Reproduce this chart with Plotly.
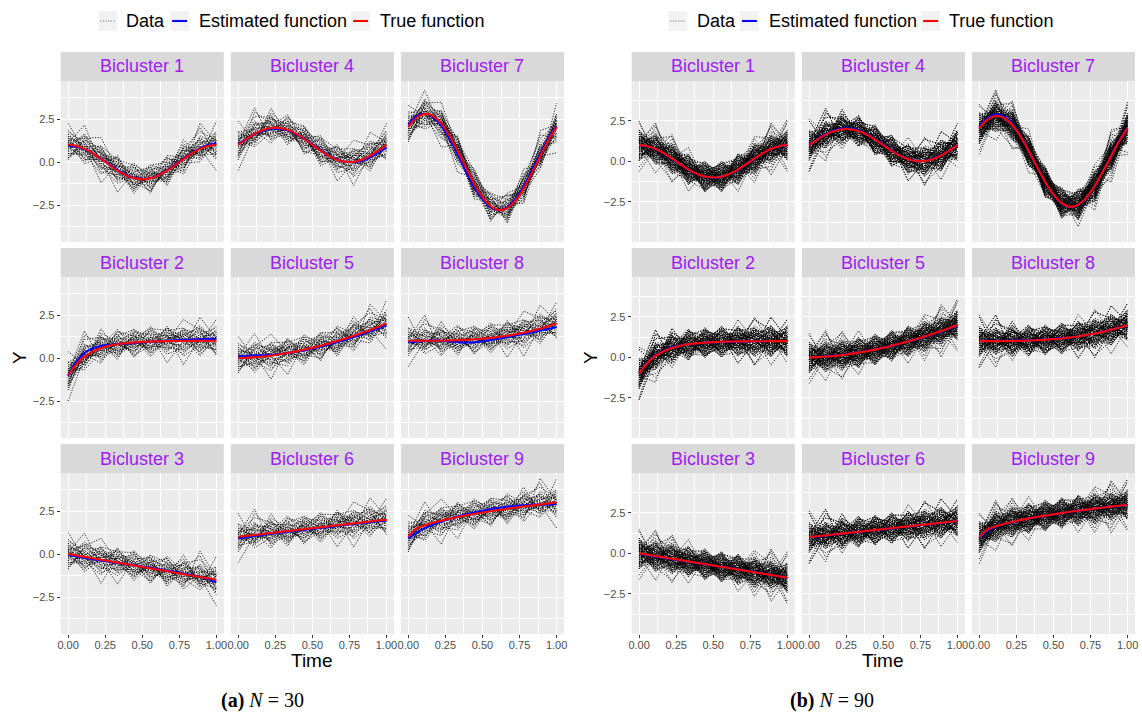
import plotly.graph_objects as go

W, H = 1142, 713

# ---------------- data ----------------
TIME = [0.0, 0.111, 0.222, 0.333, 0.444, 0.556, 0.667, 0.778, 0.889, 1.0]
GRID = [0.0, 0.05, 0.1, 0.15, 0.2, 0.25, 0.3, 0.35, 0.4, 0.45, 0.5,
        0.55, 0.6, 0.65, 0.7, 0.75, 0.8, 0.85, 0.9, 0.95, 1.0]

BICLUSTERS = ["Bicluster 1", "Bicluster 2", "Bicluster 3",
              "Bicluster 4", "Bicluster 5", "Bicluster 6",
              "Bicluster 7", "Bicluster 8", "Bicluster 9"]

# mean level of observed data at each time point
MEAN_1 = [1.0, 0.766, 0.174, -0.5, -0.94, -0.94, -0.5, 0.174, 0.766, 1.0]
MEAN_2 = [-1.0, 0.08, 0.58, 0.79, 0.91, 0.96, 0.98, 0.99, 1.0, 1.0]
MEAN_3 = [0.0, -0.167, -0.333, -0.5, -0.667, -0.833, -1.0, -1.167, -1.333, -1.5]
MEAN_4 = [1.0, 1.643, 1.985, 1.866, 1.342, 0.658, 0.134, 0.015, 0.357, 1.0]
MEAN_5 = [0.0, 0.043, 0.14, 0.29, 0.48, 0.72, 0.98, 1.29, 1.63, 2.0]
MEAN_6 = [1.0, 1.111, 1.222, 1.333, 1.444, 1.556, 1.667, 1.778, 1.889, 2.0]
MEAN_7 = [2.04, 2.80, 2.24, 0.64, -1.26, -2.57, -2.68, -1.53, 0.33, 2.04]
MEAN_8 = [1.0, 1.001, 1.011, 1.037, 1.088, 1.171, 1.296, 1.471, 1.702, 2.0]
MEAN_9 = [1.0, 1.667, 1.943, 2.155, 2.333, 2.491, 2.633, 2.764, 2.886, 3.0]
MEANS = [MEAN_1, MEAN_2, MEAN_3, MEAN_4, MEAN_5, MEAN_6, MEAN_7, MEAN_8, MEAN_9]

# deviations of individual curves from the mean, read as tenths
NOISE = [
    [3, -5, 2, 6, -1, -4, 0, 5, -3, 1],
    [-6, 1, 4, -2, 7, 0, -3, 2, 5, -4],
    [1, 11, -3, 0, -5, 3, 6, -2, -1, 4],
    [5, -2, -7, 3, 1, -6, 2, 0, 4, -3],
    [-2, 4, 0, -10, 3, 5, -1, -4, 2, 6],
    [7, 0, 3, 1, -4, 2, -5, 6, -2, -1],
    [-4, -3, 5, 2, 0, -2, 4, -6, 12, 1],
    [0, 6, -1, -4, 5, 1, -2, 3, -5, 2],
    [2, -7, 1, 4, -3, 6, 0, -1, 3, -6],
    [-5, 2, -4, 0, 2, -3, 7, 1, -2, 5],
    [4, 1, 6, -3, -2, 0, -4, 5, 1, -2],
    [-1, -4, 2, 5, 6, -5, 1, -3, 0, 3],
    [6, 3, -2, -1, 0, 4, -6, 2, 10, -5],
    [-3, 0, -5, 7, -4, 1, 3, 4, -1, 0],
    [1, -1, 3, -5, 2, -7, 5, 0, -4, 11],
    [-7, 5, 0, 2, -1, 3, -2, -5, 6, 1],
    [3, 2, -6, -2, 4, 0, 1, 7, -3, -4],
    [0, -6, 4, 1, -7, 2, -3, 1, 2, 4],
    [10, -1, 1, 3, 2, -4, 0, -2, -6, 2],
    [-2, 3, -3, -6, 1, 6, 4, -1, 0, -3],
    [2, 5, 10, 0, -3, -1, -5, 3, 4, -7],
    [-4, -2, 1, 4, 3, -3, 2, -7, 1, 0],
    [5, 0, -4, -3, 6, 2, -1, 4, -2, 3],
    [-1, 7, 2, 1, -2, -6, 3, 0, 5, -1],
    [1, -3, -1, 6, 0, 5, -7, 2, -3, 6],
    [-6, 4, 5, -1, -5, 1, 6, -3, 3, 2],
    [4, -5, 0, 2, 5, -2, -3, 9, -4, 0],
    [0, 1, -11, 3, -6, 4, 2, -4, 1, -5],
    [-3, 6, 3, -4, 1, -1, 0, 5, 8, 2],
    [2, -2, 6, 5, -3, 3, -4, -1, 0, -12],
]
NOISE_UNIT = [0.125, 0.135]

TRUE_1 = [1, .951, .809, .588, .309, 0, -.309, -.588, -.809, -.951, -1,
          -.951, -.809, -.588, -.309, 0, .309, .588, .809, .951, 1]
TRUE_2 = [-1, -0.41, 0.01, 0.30, 0.51, 0.65, 0.76, 0.83, 0.88, 0.91, 0.94,
          0.96, 0.97, 0.98, 0.985, 0.99, 0.99, 0.995, 1.0, 1.0, 1.0]
TRUE_3 = [0, -0.075, -0.15, -0.225, -0.3, -0.375, -0.45, -0.525, -0.6, -0.675, -0.75,
          -0.825, -0.9, -0.975, -1.05, -1.125, -1.2, -1.275, -1.35, -1.425, -1.5]
TRUE_4 = [1, 1.309, 1.588, 1.809, 1.951, 2, 1.951, 1.809, 1.588, 1.309, 1,
          .691, .412, .191, .049, 0, .049, .191, .412, .691, 1]
TRUE_5 = [0, 0.011, 0.036, 0.072, 0.12, 0.177, 0.244, 0.32, 0.40, 0.49, 0.59,
          0.70, 0.82, 0.94, 1.07, 1.21, 1.35, 1.50, 1.66, 1.83, 2.0]
TRUE_6 = [1, 1.05, 1.1, 1.15, 1.2, 1.25, 1.3, 1.35, 1.4, 1.45, 1.5,
          1.55, 1.6, 1.65, 1.7, 1.75, 1.8, 1.85, 1.9, 1.95, 2.0]
TRUE_7 = [2.04, 2.53, 2.78, 2.75, 2.45, 1.92, 1.19, 0.35, -0.52, -1.35, -2.04,
          -2.53, -2.78, -2.75, -2.45, -1.92, -1.19, -0.35, 0.52, 1.35, 2.04]
TRUE_8 = [1, 1.0001, 1.001, 1.0034, 1.008, 1.0156, 1.027, 1.043, 1.064, 1.091, 1.125,
          1.166, 1.216, 1.275, 1.343, 1.422, 1.512, 1.614, 1.729, 1.857, 2.0]
TRUE_9 = [1, 1.447, 1.632, 1.775, 1.894, 2.0, 2.095, 2.183, 2.265, 2.342, 2.414,
          2.483, 2.549, 2.612, 2.673, 2.732, 2.789, 2.844, 2.897, 2.949, 3.0]
TRUE = [TRUE_1, TRUE_2, TRUE_3, TRUE_4, TRUE_5, TRUE_6, TRUE_7, TRUE_8, TRUE_9]

EST_A_1 = [0.93, 0.90, 0.78, 0.58, 0.32, 0.03, -0.27, -0.55, -0.78, -0.93, -0.98,
           -0.94, -0.80, -0.57, -0.28, 0.03, 0.34, 0.62, 0.85, 1.00, 1.10]
EST_A_2 = [-1.05, -0.30, 0.20, 0.50, 0.66, 0.74, 0.79, 0.82, 0.85, 0.88, 0.92,
           0.95, 0.98, 1.00, 1.02, 1.04, 1.06, 1.08, 1.10, 1.11, 1.12]
EST_A_3 = [-0.05, -0.13, -0.21, -0.28, -0.35, -0.42, -0.48, -0.54, -0.60, -0.66, -0.73,
           -0.80, -0.87, -0.94, -1.01, -1.09, -1.17, -1.26, -1.36, -1.48, -1.65]
EST_A_4 = [1.05, 1.33, 1.58, 1.77, 1.89, 1.93, 1.90, 1.78, 1.58, 1.32, 1.03,
           0.73, 0.45, 0.22, 0.06, -0.01, 0.01, 0.12, 0.32, 0.57, 0.85]
EST_A_5 = [0.10, 0.13, 0.15, 0.16, 0.17, 0.20, 0.25, 0.31, 0.38, 0.46, 0.55,
           0.65, 0.76, 0.88, 1.01, 1.14, 1.28, 1.43, 1.58, 1.74, 1.90]
EST_A_6 = [0.90, 0.97, 1.04, 1.10, 1.16, 1.21, 1.26, 1.31, 1.36, 1.41, 1.46,
           1.51, 1.56, 1.61, 1.67, 1.72, 1.77, 1.82, 1.87, 1.91, 1.95]
EST_A_7 = [2.20, 2.62, 2.80, 2.70, 2.34, 1.76, 1.00, 0.14, -0.73, -1.52, -2.16,
           -2.60, -2.80, -2.72, -2.38, -1.82, -1.07, -0.22, 0.64, 1.45, 2.10]
EST_A_8 = [0.90, 0.95, 0.99, 1.01, 1.01, 0.99, 0.95, 0.91, 0.90, 0.92, 0.97,
           1.04, 1.11, 1.19, 1.27, 1.35, 1.43, 1.52, 1.61, 1.70, 1.80]
EST_A_9 = [0.90, 1.20, 1.45, 1.65, 1.82, 1.97, 2.10, 2.22, 2.33, 2.43, 2.52,
           2.60, 2.67, 2.73, 2.78, 2.82, 2.85, 2.87, 2.88, 2.89, 2.90]
EST_A = [EST_A_1, EST_A_2, EST_A_3, EST_A_4, EST_A_5, EST_A_6, EST_A_7, EST_A_8, EST_A_9]

EST_B_1 = [0.98, 0.93, 0.79, 0.57, 0.29, -0.02, -0.32, -0.60, -0.82, -0.96, -1.01,
           -0.96, -0.82, -0.60, -0.31, -0.01, 0.30, 0.58, 0.80, 0.94, 0.98]
EST_B_2 = [-1.02, -0.38, 0.05, 0.34, 0.54, 0.67, 0.77, 0.83, 0.88, 0.91, 0.93,
           0.95, 0.96, 0.97, 0.98, 0.99, 1.00, 1.00, 1.01, 1.01, 1.01]
EST_B_3 = [-0.03, -0.10, -0.18, -0.25, -0.32, -0.40, -0.47, -0.54, -0.61, -0.68, -0.75,
           -0.82, -0.89, -0.96, -1.04, -1.11, -1.19, -1.27, -1.35, -1.43, -1.52]
EST_B_4 = [1.02, 1.34, 1.63, 1.85, 1.99, 2.04, 1.99, 1.85, 1.62, 1.34, 1.03,
           0.72, 0.43, 0.21, 0.06, 0.01, 0.06, 0.20, 0.42, 0.70, 1.00]
EST_B_5 = [0.02, 0.03, 0.05, 0.09, 0.13, 0.19, 0.26, 0.33, 0.41, 0.50, 0.60,
           0.70, 0.81, 0.93, 1.06, 1.19, 1.33, 1.48, 1.63, 1.79, 1.96]
EST_B_6 = [0.98, 1.03, 1.09, 1.14, 1.19, 1.24, 1.29, 1.34, 1.39, 1.44, 1.49,
           1.54, 1.59, 1.64, 1.69, 1.74, 1.79, 1.84, 1.89, 1.94, 1.99]
EST_B_7 = [2.12, 2.61, 2.87, 2.84, 2.53, 1.98, 1.23, 0.37, -0.51, -1.35, -2.05,
           -2.55, -2.80, -2.77, -2.47, -1.93, -1.19, -0.34, 0.54, 1.37, 2.06]
EST_B_8 = [1.02, 1.02, 1.02, 1.02, 1.02, 1.03, 1.04, 1.05, 1.07, 1.10, 1.13,
           1.17, 1.22, 1.28, 1.35, 1.43, 1.52, 1.62, 1.73, 1.85, 1.98]
EST_B_9 = [0.95, 1.38, 1.60, 1.76, 1.88, 1.99, 2.09, 2.18, 2.26, 2.34, 2.41,
           2.48, 2.54, 2.61, 2.67, 2.73, 2.78, 2.84, 2.89, 2.94, 2.99]
EST_B = [EST_B_1, EST_B_2, EST_B_3, EST_B_4, EST_B_5, EST_B_6, EST_B_7, EST_B_8, EST_B_9]

N_CURVES = [30, 90]
CAPTIONS = ["<b>(a)</b> <i>N</i> = 30", "<b>(b)</b> <i>N</i> = 90"]
X_TICKS = [0, 0.25, 0.5, 0.75, 1.0]
X_TICKTEXT = ["0.00", "0.25", "0.50", "0.75", "1.00"]
Y_TICKS = [-2.5, 0, 2.5]
Y_TICKTEXT = ["\u22122.5", "0.0", "2.5"]
Y_RANGES = [[-4.65, 4.71], [-4.98, 4.96]]

# ---------------- layout geometry (pixels) ----------------
COLS_PX = [[(58, 222), (229, 393), (400, 564)],
           [(632, 796), (803, 967), (974, 1138)]]
ROWS_PX = [(81, 242), (277, 438), (473, 634)]
STRIP_PX = [(52, 81), (248, 277), (444, 473)]
FONT = "Liberation Sans, Arial, Helvetica, sans-serif"


def px(x):
    return x / W


def py(y):
    return 1 - y / H


def curves(mean, n, k, panel):
    xs, ys = [], []
    for j in range(n):
        row = NOISE[(j + (3 + 2 * panel) * k) % len(NOISE)]
        v = j // 30
        if v == 1:
            row = [-a for a in row]
        elif v == 2:
            row = row[::-1]
        if k % 2 == 1 and v != 2:
            row = row[::-1]
        for t, m, e in zip(TIME, mean, row):
            xs.append(t)
            ys.append(m + NOISE_UNIT[panel] * e)
        xs.append(None)
        ys.append(None)
    return xs, ys


fig = go.Figure()
shapes = []
annotations = []
layout = {}

ax = 0
for panel in range(2):
    est = EST_A if panel == 0 else EST_B
    for k in range(9):
        ax += 1
        r, c = k % 3, k // 3
        xa = "x" if ax == 1 else f"x{ax}"
        ya = "y" if ax == 1 else f"y{ax}"
        xs, ys = curves(MEANS[k], N_CURVES[panel], k, panel)
        fig.add_trace(go.Scatter(x=xs, y=ys, mode="lines", xaxis=xa, yaxis=ya,
                                 line=dict(color="black", width=0.85, dash="1.2px,1.5px"),
                                 hoverinfo="skip", showlegend=False))
        fig.add_trace(go.Scatter(x=GRID, y=est[k], mode="lines", xaxis=xa, yaxis=ya,
                                 line=dict(color="#0000FF", width=2.1, shape="spline"),
                                 showlegend=False))
        fig.add_trace(go.Scatter(x=GRID, y=TRUE[k], mode="lines", xaxis=xa, yaxis=ya,
                                 line=dict(color="#FF0000", width=2.1, shape="spline"),
                                 showlegend=False))
        x0, x1 = COLS_PX[panel][c]
        y0, y1 = ROWS_PX[r]
        bottom = r == 2
        left = c == 0
        layout["xaxis" if ax == 1 else f"xaxis{ax}"] = dict(
            domain=[px(x0), px(x1)], anchor=ya, range=[-0.05, 1.05],
            tickvals=X_TICKS, ticktext=X_TICKTEXT, showticklabels=bottom,
            ticks="outside" if bottom else "", ticklen=3, tickwidth=1, tickcolor="#333333",
            ticklabelstandoff=-2,
            tickfont=dict(family=FONT, size=11, color="#4D4D4D"),
            showgrid=True, gridcolor="white", gridwidth=1.3, zeroline=False,
            showline=False,
            minor=dict(tickvals=[0.125, 0.375, 0.625, 0.875], showgrid=True,
                       gridcolor="white", gridwidth=0.6, ticks=""))
        layout["yaxis" if ax == 1 else f"yaxis{ax}"] = dict(
            domain=[py(y1), py(y0)], anchor=xa, range=Y_RANGES[panel],
            tickvals=Y_TICKS, ticktext=Y_TICKTEXT, showticklabels=left,
            ticks="outside" if left else "", ticklen=3, tickwidth=1, tickcolor="#333333",
            tickfont=dict(family=FONT, size=11, color="#4D4D4D"),
            showgrid=True, gridcolor="white", gridwidth=1.3, zeroline=False,
            showline=False,
            minor=dict(tickvals=[-3.75, -1.25, 1.25, 3.75], showgrid=True,
                       gridcolor="white", gridwidth=0.6, ticks=""))
        s0, s1 = STRIP_PX[r]
        shapes.append(dict(type="rect", xref="paper", yref="paper",
                           x0=px(x0), x1=px(x1), y0=py(s1), y1=py(s0),
                           fillcolor="#D9D9D9", line=dict(width=0), layer="below"))
        annotations.append(dict(text=BICLUSTERS[k], xref="paper", yref="paper",
                                x=px((x0 + x1) / 2), y=py((s0 + s1) / 2),
                                xanchor="center", yanchor="middle", showarrow=False,
                                font=dict(family=FONT, size=18, color="#A020F0")))

    # axis titles
    pl = COLS_PX[panel][0][0]
    pr = COLS_PX[panel][2][1]
    annotations.append(dict(text="Time", xref="paper", yref="paper",
                            x=px((pl + pr) / 2), y=py(660), xanchor="center", yanchor="middle",
                            showarrow=False, font=dict(family=FONT, size=19, color="black")))
    annotations.append(dict(text="Y", xref="paper", yref="paper", textangle=-90,
                            x=px(pl - 42), y=py(357), xanchor="center", yanchor="middle",
                            showarrow=False, font=dict(family=FONT, size=19, color="black")))
    # caption
    annotations.append(dict(text=CAPTIONS[panel], xref="paper", yref="paper",
                            x=px(261 if panel == 0 else 833), y=py(700),
                            xanchor="center", yanchor="middle", showarrow=False,
                            font=dict(family="Liberation Serif, Times New Roman, serif",
                                      size=20, color="black")))

# ---------------- legends (drawn) ----------------
LEGEND_LABELS = ["Data", "Estimated function", "True function"]
LEGEND_KEYS_PX = [[96, 168, 350], [669, 741, 923]]
LEGEND_TEXT_PX = [[122, 195, 377], [696, 768, 949]]
LEGEND_COLORS = ["#555555", "#0000FF", "#FF0000"]
for panel in range(2):
    for i, lab in enumerate(LEGEND_LABELS):
        kx = LEGEND_KEYS_PX[panel][i]
        shapes.append(dict(type="rect", xref="paper", yref="paper",
                           x0=px(kx), x1=px(kx + 19), y0=py(31), y1=py(11),
                           fillcolor="#F2F2F2", line=dict(width=0)))
        if i == 0:
            ln = dict(color="#555555", width=0.9, dash="1px,1.6px")
        else:
            ln = dict(color=LEGEND_COLORS[i], width=2.1)
        shapes.append(dict(type="line", xref="paper", yref="paper",
                           x0=px(kx + 2), x1=px(kx + 17), y0=py(21), y1=py(21), line=ln))
        annotations.append(dict(text=lab, xref="paper", yref="paper",
                                x=px(LEGEND_TEXT_PX[panel][i]), y=py(21),
                                xanchor="left", yanchor="middle", showarrow=False,
                                font=dict(family=FONT, size=18, color="black")))

fig.update_layout(
    width=W, height=H, autosize=False,
    margin=dict(l=0, r=0, t=0, b=0),
    paper_bgcolor="white", plot_bgcolor="#EBEBEB",
    shapes=shapes, annotations=annotations, showlegend=False,
    **layout)

fig.write_html(
    "out.html",
    config={"displayModeBar": False},
    post_script="document.body.style.margin='0';document.body.style.overflow='hidden';"
                "document.documentElement.style.overflow='hidden';")
